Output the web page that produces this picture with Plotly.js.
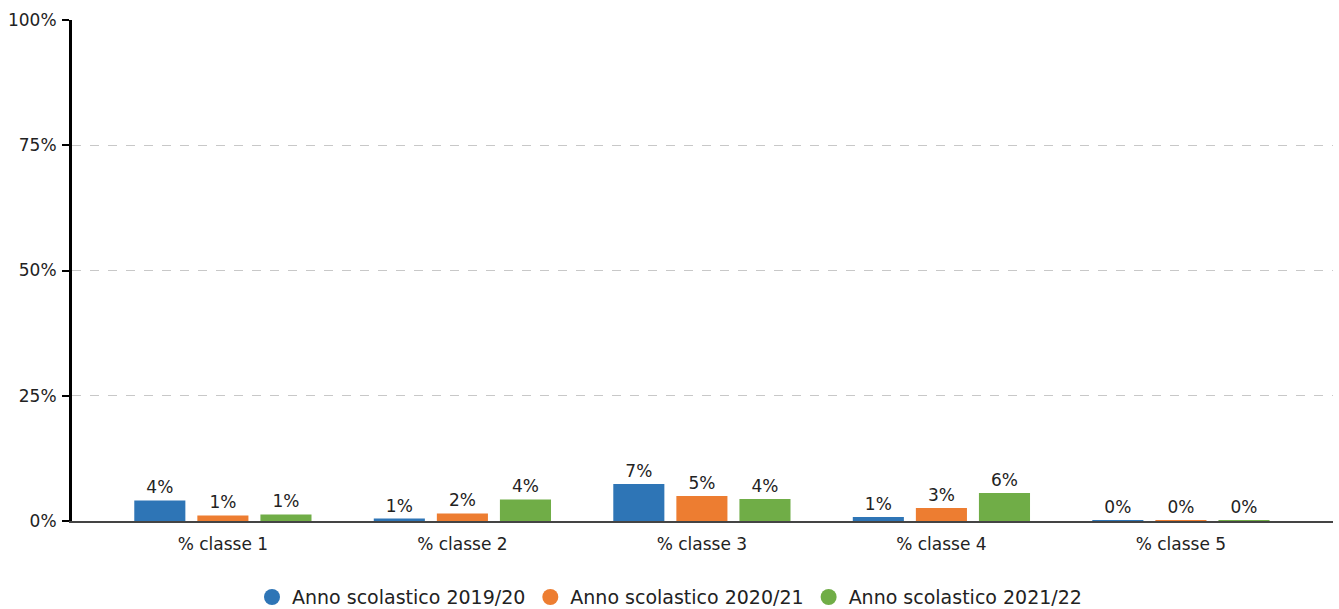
<!DOCTYPE html>
<html>
<head>
<meta charset="utf-8">
<script src="https://cdn.plot.ly/plotly-3.0.1.min.js"></script>
<style>html,body{margin:0;padding:0;background:#fff;}#chart{width:1339px;height:609px;}</style>
</head>
<body>
<div id="chart"></div>
<script>
const categories = ['% classe 1', '% classe 2', '% classe 3', '% classe 4', '% classe 5'];
const seriesNames = ['Anno scolastico 2019/20', 'Anno scolastico 2020/21', 'Anno scolastico 2021/22'];
const values2019 = [4.1, 0.5, 7.4, 0.8, 0.2];
const values2020 = [1.1, 1.5, 5.0, 2.6, 0.2];
const values2021 = [1.3, 4.3, 4.4, 5.6, 0.2];
const colors = ['#2e75b6', '#ed7d31', '#70ad47'];
const yTickVals = [0, 25, 50, 75, 100];
const yTickText = ['0%', '25%', '50%', '75%', '100%'];

const font = 'DejaVu Sans, sans-serif';
const allValues = [values2019, values2020, values2021];

const traces = [];
allValues.forEach((vals, i) => {
  traces.push({
    type: 'bar',
    x: categories,
    y: vals,
    name: seriesNames[i],
    marker: {color: colors[i]},
    text: vals.map(v => Math.round(v) + '%'),
    textposition: 'outside',
    textfont: {family: font, size: 17, color: '#222'},
    cliponaxis: false,
    showlegend: false,
    hoverinfo: 'x+y+name'
  });
});
allValues.forEach((vals, i) => {
  traces.push({
    type: 'scatter',
    mode: 'markers',
    x: [categories[0]],
    y: [null],
    name: seriesNames[i],
    marker: {color: colors[i], size: 16, symbol: 'circle'},
    showlegend: true,
    hoverinfo: 'skip'
  });
});

const layout = {
  width: 1339,
  height: 609,
  margin: {l: 72, r: 6, t: 20, b: 88, autoexpand: false},
  paper_bgcolor: '#fff',
  plot_bgcolor: '#fff',
  barmode: 'group',
  bargap: 0.21,
  bargroupgap: 0.19,
  font: {family: font, size: 17, color: '#222'},
  xaxis: {
    type: 'category',
    range: [-0.63, 4.635],
    showgrid: false,
    showline: true,
    linecolor: '#444',
    linewidth: 2,
    ticks: '',
    ticklabelstandoff: 7,
    tickfont: {family: font, size: 17, color: '#222'},
    fixedrange: true,
    automargin: false
  },
  yaxis: {
    range: [0, 100],
    tickvals: yTickVals,
    ticktext: yTickText,
    showgrid: true,
    gridcolor: '#c8c8c8',
    griddash: 'dash',
    gridwidth: 1,
    zeroline: false,
    showline: true,
    linecolor: '#000',
    linewidth: 3,
    ticks: 'outside',
    ticklen: 7,
    tickwidth: 2,
    tickcolor: '#000',
    ticklabelstandoff: 2,
    tickfont: {family: font, size: 17, color: '#222'},
    fixedrange: true,
    automargin: false
  },
  legend: {
    orientation: 'h',
    xref: 'container',
    x: 0.5,
    xanchor: 'center',
    y: -0.152,
    yanchor: 'middle',
    font: {family: font, size: 19, color: '#222'},
    itemsizing: 'trace',
    itemwidth: 30,
    tracegroupgap: 0
  },
  showlegend: true
};

Plotly.newPlot('chart', traces, layout, {displayModeBar: false, staticPlot: true});
</script>
</body>
</html>
